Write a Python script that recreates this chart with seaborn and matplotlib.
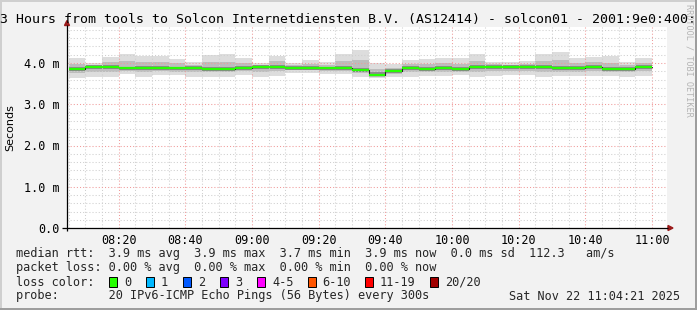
import numpy as np
import pandas as pd
import matplotlib
matplotlib.use("Agg")
import matplotlib.pyplot as plt
import seaborn as sns
from matplotlib.ticker import MultipleLocator, FuncFormatter
from matplotlib.patches import Polygon, Rectangle
from matplotlib.lines import Line2D

# ---------------- data ----------------
view_start = "2025-11-22 08:04:30"
view_end = "2025-11-22 11:04:30"
slot_end = pd.date_range("2025-11-22 08:10", "2025-11-22 11:00", freq="5min")  # 35 slots

median_ms = [3.86, 3.90, 3.90, 3.87, 3.88, 3.88, 3.87, 3.88, 3.86, 3.86, 3.89, 3.91,
             3.90, 3.88, 3.89, 3.87, 3.88, 3.84, 3.71, 3.81, 3.89, 3.86, 3.89, 3.86,
             3.91, 3.91, 3.90, 3.90, 3.91, 3.89, 3.89, 3.91, 3.86, 3.86, 3.90]
max_ms = [4.11, 3.99, 4.14, 4.23, 4.18, 4.18, 4.10, 4.03, 4.19, 4.21, 4.13, 3.99,
          4.18, 3.99, 4.07, 4.03, 4.21, 4.32, 3.99, 3.97, 4.07, 4.10, 4.11, 4.11,
          4.21, 4.03, 4.02, 4.05, 4.21, 4.26, 4.11, 4.14, 4.17, 4.03, 4.11]
min_ms = [3.63, 3.67, 3.65, 3.73, 3.65, 3.71, 3.71, 3.67, 3.67, 3.67, 3.71, 3.67,
          3.69, 3.75, 3.75, 3.73, 3.73, 3.67, 3.63, 3.67, 3.67, 3.69, 3.69, 3.71,
          3.65, 3.69, 3.71, 3.71, 3.67, 3.69, 3.69, 3.69, 3.69, 3.67, 3.69]
mid_hi_ms = [3.98, 3.95, 4.02, 4.05, 4.03, 4.03, 3.99, 3.96, 4.02, 4.03, 4.01, 3.95,
             4.04, 3.94, 3.98, 3.95, 4.04, 4.08, 3.85, 3.89, 3.98, 3.98, 4.00, 3.98,
             4.06, 3.97, 3.96, 3.98, 4.06, 4.07, 4.00, 4.02, 4.01, 3.95, 4.00]
mid_lo_ms = [3.75, 3.79, 3.78, 3.80, 3.77, 3.80, 3.79, 3.78, 3.77, 3.77, 3.80, 3.79,
             3.80, 3.82, 3.82, 3.80, 3.81, 3.76, 3.66, 3.74, 3.78, 3.78, 3.79, 3.79,
             3.78, 3.80, 3.81, 3.81, 3.79, 3.79, 3.79, 3.80, 3.77, 3.77, 3.80]
in_hi_ms = [3.90, 3.94, 3.94, 3.91, 3.92, 3.92, 3.91, 3.92, 3.90, 3.90, 3.93, 3.95,
            3.94, 3.92, 3.93, 3.91, 3.92, 3.88, 3.77, 3.85, 3.93, 3.90, 3.93, 3.90,
            3.95, 3.95, 3.94, 3.94, 3.95, 3.93, 3.93, 3.95, 3.90, 3.90, 3.94]
in_lo_ms = [3.81, 3.85, 3.85, 3.82, 3.83, 3.83, 3.82, 3.83, 3.81, 3.81, 3.84, 3.86,
            3.85, 3.83, 3.84, 3.82, 3.83, 3.79, 3.68, 3.76, 3.84, 3.81, 3.84, 3.81,
            3.86, 3.86, 3.85, 3.85, 3.86, 3.84, 3.84, 3.86, 3.81, 3.81, 3.85]

title = "3 Hours from tools to Solcon Internetdiensten B.V. (AS12414) - solcon01 - 2001:9e0:400:"
rtt_line = "median rtt:  3.9 ms avg  3.9 ms max  3.7 ms min  3.9 ms now  0.0 ms sd  112.3   am/s"
loss_line = "packet loss: 0.00 % avg  0.00 % max  0.00 % min  0.00 % now"
probe_line = "probe:       20 IPv6-ICMP Echo Pings (56 Bytes) every 300s"
stamp = "Sat Nov 22 11:04:21 2025"
loss_labels = ["0", "1", "2", "3", "4-5", "6-10", "11-19", "20/20"]
loss_colors = ["#26FF00", "#00B8FF", "#0059FF", "#7E00FF", "#FF00FF", "#FF5500", "#FF0000", "#A10000"]

# ---------------- geometry ----------------
W, H = 697, 310
day0 = pd.Timestamp("2025-11-22 08:00")
to_min = lambda t: (pd.Timestamp(t) - day0).total_seconds() / 60.0
x0, x1 = to_min(view_start), to_min(view_end)
ends = np.array([to_min(t) for t in slot_end])
starts = np.maximum(ends - 5.0, x0)
xs = np.append(starts, ends[-1])

def stepv(v):
    v = np.asarray(v, float)
    return np.append(v, v[-1])

sns.set_style("white")
plt.rcParams["font.family"] = ["DejaVu Sans Mono", "DejaVu Sans"]
MONO = "DejaVu Sans Mono"

fig = plt.figure(figsize=(W / 100, H / 100), dpi=100, facecolor="#F2F2F2")

def fx(x):
    return x / W

def fy(y):
    return 1 - y / H

top_px, bot_px, left_px, right_px = 26.5, 228.0, 67.0, 667.0
ymax = (bot_px - top_px) / 41.25
ax = fig.add_axes([fx(left_px), fy(bot_px), (right_px - left_px) / W, (bot_px - top_px) / H])
ax.set_facecolor("white")
ax.set_xlim(x0, x1)
ax.set_ylim(0, ymax)

# smoke layers
ax.fill_between(xs, stepv(min_ms), stepv(max_ms), step="post", color="#DDDDDD", lw=0, zorder=1)
ax.fill_between(xs, stepv(mid_lo_ms), stepv(mid_hi_ms), step="post", color="#BDBDBD", lw=0, zorder=1.1)
ax.fill_between(xs, stepv(in_lo_ms), stepv(in_hi_ms), step="post", color="#8C8C8C", lw=0, zorder=1.2)

# median: black step line + green segments
sns.lineplot(x=xs, y=stepv(median_ms), drawstyle="steps-post", color="#202020",
             linewidth=0.8, estimator=None, ax=ax, zorder=2.8)
ax.hlines(median_ms, starts, ends, colors=loss_colors[0], lw=1.6, zorder=3)

# grid
ax.xaxis.set_major_locator(MultipleLocator(20))
ax.xaxis.set_minor_locator(MultipleLocator(5))
ax.yaxis.set_major_locator(MultipleLocator(1.0))
ax.yaxis.set_minor_locator(MultipleLocator(0.2))
ax.set_axisbelow("line")
ax.grid(which="minor", color="#CFCFCF", linestyle=(0, (1, 2)), linewidth=0.75)
ax.grid(which="major", color="#F09A9A", linestyle=(0, (1, 2)), linewidth=0.75)

ax.xaxis.set_major_formatter(FuncFormatter(lambda v, p: f"{int(v // 60) + 8:02d}:{int(round(v % 60)):02d}"))
ax.yaxis.set_major_formatter(FuncFormatter(lambda v, p: "0.0" if abs(v) < 1e-9 else f"{v:.1f} m"))
ax.tick_params(which="both", length=0)
ax.tick_params(axis="x", pad=4.0, labelsize=8.5, labelcolor="black")
ax.tick_params(axis="y", pad=5.0, labelsize=8.5, labelcolor="black")
for lab in ax.get_xticklabels() + ax.get_yticklabels():
    lab.set_family(MONO)
ax.set_xlabel("")
ax.set_ylabel("")
for s in ax.spines.values():
    s.set_visible(False)

# axes lines & arrows (pixel coordinates)
def pline(xa, ya, xb, yb, color="black", lw=0.9):
    fig.add_artist(Line2D([fx(xa), fx(xb)], [fy(ya), fy(yb)], color=color, lw=lw,
                          transform=fig.transFigure, solid_capstyle="butt"))

pline(left_px, 231, left_px, 25)
pline(62, bot_px, 668, bot_px)
arrow_c = "#9B1B1B"
fig.add_artist(Polygon([(fx(64.5), fy(25.5)), (fx(69.5), fy(25.5)), (fx(67), fy(20.5))],
                       closed=True, color=arrow_c, transform=fig.transFigure))
fig.add_artist(Polygon([(fx(668), fy(225.5)), (fx(668), fy(230.5)), (fx(673), fy(228))],
                       closed=True, color=arrow_c, transform=fig.transFigure))

# title
fig.text(fx(0), fy(22.5), title, family=MONO, fontsize=9.57, ha="left", va="baseline", color="black")
# watermark
fig.text(fx(688.5), fy(4), "RRDTOOL / TOBI OETIKER", family=MONO, fontsize=6.1,
         rotation=270, ha="center", va="top", color="#B4B4B4")
# y label
fig.text(fx(10.5), fy(128), "Seconds", family="DejaVu Sans", fontsize=8.0,
         rotation=90, ha="center", va="center", color="black")

# legend block
LF = 8.52
fig.text(fx(16), fy(254), rtt_line, family=MONO, fontsize=LF, ha="left", va="center")
fig.text(fx(16), fy(268), loss_line, family=MONO, fontsize=LF, ha="left", va="center")
fig.text(fx(16), fy(282), "loss color:", family=MONO, fontsize=LF, ha="left", va="center")
fig.text(fx(16), fy(296), probe_line, family=MONO, fontsize=LF, ha="left", va="center")
fig.text(fx(680), fy(296), stamp, family=MONO, fontsize=LF, ha="right", va="center")
box_x = [109, 146, 183, 220, 257, 307.5, 365, 430]
for bx, lab, col in zip(box_x, loss_labels, loss_colors):
    fig.add_artist(Rectangle((fx(bx), fy(287)), 8 / W, 10 / H, facecolor=col,
                             edgecolor="black", lw=0.7, transform=fig.transFigure))
    fig.text(fx(bx + 15), fy(282), lab, family=MONO, fontsize=LF, ha="left", va="center")

# 3D border
fig.add_artist(Rectangle((0, fy(2)), 1, 2 / H, facecolor="#CFCFCF", lw=0, transform=fig.transFigure))
fig.add_artist(Rectangle((0, 0), 2 / W, 1, facecolor="#CFCFCF", lw=0, transform=fig.transFigure))
fig.add_artist(Rectangle((0, 0), 1, 2 / H, facecolor="#9E9E9E", lw=0, transform=fig.transFigure))
fig.add_artist(Rectangle((fx(695), 0), 2 / W, 1, facecolor="#9E9E9E", lw=0, transform=fig.transFigure))

fig.savefig("out.png", dpi=100, facecolor=fig.get_facecolor())
